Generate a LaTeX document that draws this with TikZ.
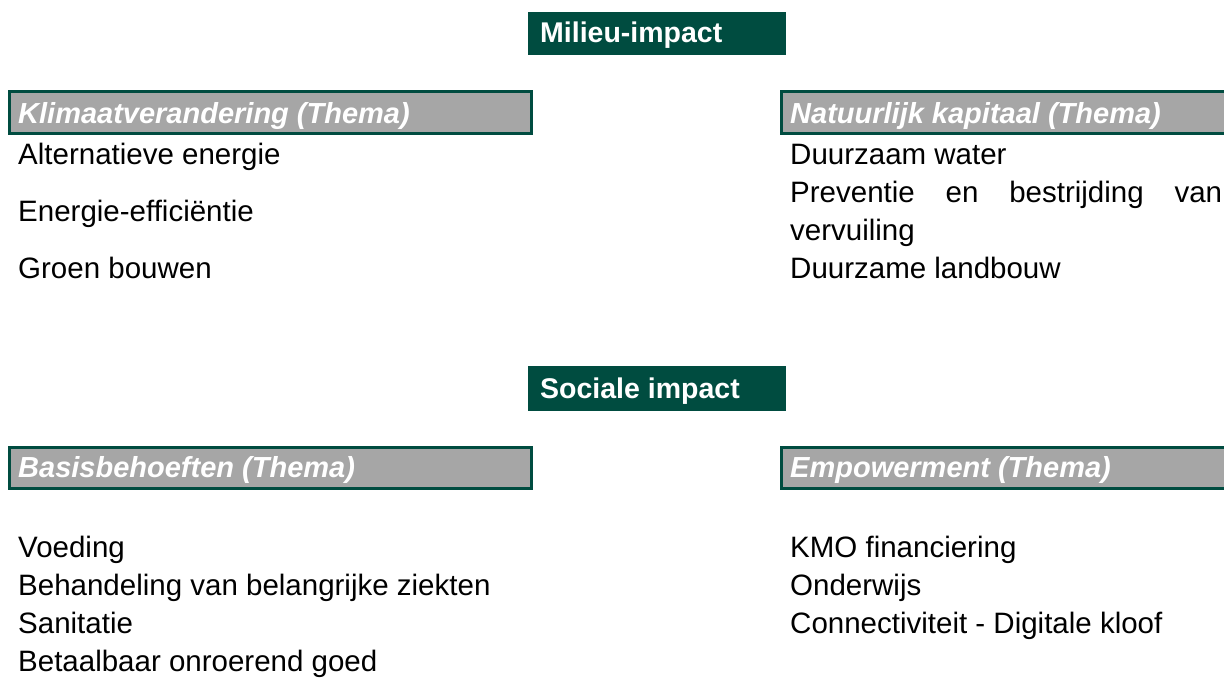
\documentclass[tikz,border=0pt]{standalone}
\usepackage{fontspec}
\setmainfont{Liberation Sans}
\definecolor{dgreen}{RGB}{0,76,64}
\definecolor{tgray}{RGB}{166,166,166}
\begin{document}
\begin{tikzpicture}[x=1pt,y=-1pt,
  hdr/.style={fill=dgreen,draw=dgreen,minimum height=42pt,minimum width=257pt,inner sep=0pt},
  hdrtext/.style={anchor=base west,inner sep=0pt,text=white,font=\fontsize{28.5}{32}\selectfont\bfseries},
  thema/.style={fill=tgray,draw=dgreen,line width=3pt},
  thtext/.style={anchor=base west,inner sep=0pt,text=white,font=\fontsize{29}{32}\selectfont\bfseries\itshape},
  item/.style={anchor=base west,inner sep=0pt,text=black,font=\fontsize{29.5}{32}\selectfont}]
\useasboundingbox (0,0) rectangle (1224,687);
% headers
\node[hdr,anchor=north west] (mh) at (528,12) {};
\node[hdrtext] (mt) at (540,43) {Milieu-impact};
\node[hdr,anchor=north west,minimum height=44pt] (sh) at (528,366) {};
\node[hdrtext] (st) at (540,398) {Sociale impact};
% thema boxes
\draw[thema] (9.5,91.5) rectangle (531.5,133.5);
\node[thtext] (t1) at (18,124) {Klimaatverandering (Thema)};
\draw[thema] (781.5,91.5) rectangle (1230,133.5);
\node[thtext] (t2) at (790,124) {Natuurlijk kapitaal (Thema)};
\draw[thema] (9.5,447.5) rectangle (531.5,488.5);
\node[thtext] (t3) at (18,477) {Basisbehoeften (Thema)};
\draw[thema] (781.5,447.5) rectangle (1230,488.5);
\node[thtext] (t4) at (790,477) {Empowerment (Thema)};
% items left top
\node[item] (a1) at (18,165) {Alternatieve energie};
\node[item] (a2) at (18,222) {Energie-efficiëntie};
\node[item] (a3) at (18,279) {Groen bouwen};
% items right top
\node[item] (b1) at (790,165) {Duurzaam water};
\node[item] (b2) at (790,203) {\hbox to 432pt{Preventie\hfill en\hfill bestrijding\hfill van}};
\node[item] (b3) at (790,241) {vervuiling};
\node[item] (b4) at (790,279) {Duurzame landbouw};
% items left bottom
\node[item] (c1) at (18,557) {Voeding};
\node[item] (c2) at (18,595) {Behandeling van belangrijke ziekten};
\node[item] (c3) at (18,633) {Sanitatie};
\node[item] (c4) at (18,671) {Betaalbaar onroerend goed};
% items right bottom
\node[item] (d1) at (790,557) {KMO financiering};
\node[item] (d2) at (790,595) {Onderwijs};
\node[item] (d3) at (790,633) {Connectiviteit - Digitale kloof};
\end{tikzpicture}
\end{document}
